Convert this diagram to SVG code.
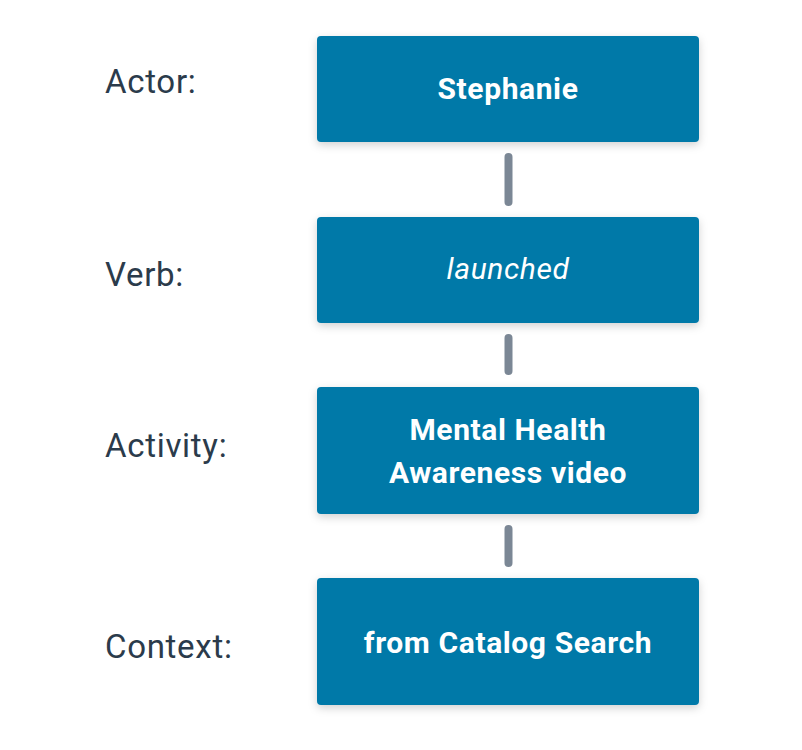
<svg xmlns="http://www.w3.org/2000/svg" width="802" height="750" viewBox="0 0 802 750">
  <defs>
    <filter id="shadow" x="-10%" y="-20%" width="120%" height="150%">
      <feDropShadow dx="0" dy="3" stdDeviation="4" flood-color="#000" flood-opacity="0.18"/>
    </filter>
    <style>
      .box { fill: #0679a8; filter: url(#shadow); }
      .label { font-family: Roboto, "Liberation Sans", sans-serif; font-size: 33px; letter-spacing: 0.7px; fill: #2b3b4b; }
      .txt { font-family: Roboto, "Liberation Sans", sans-serif; font-size: 30px; letter-spacing: 0.6px; font-weight: bold; fill: #ffffff; text-anchor: middle; }
      .it { font-weight: normal; font-style: italic; }
      .conn { stroke: #7b8795; stroke-width: 8; stroke-linecap: round; fill: none; }
    </style>
  </defs>
  <rect width="802" height="750" fill="#ffffff"/>
  <g id="labels">
    <text class="label" x="105" y="93">Actor:</text>
    <text class="label" x="105" y="286">Verb:</text>
    <text class="label" x="105" y="457">Activity:</text>
    <text class="label" x="105" y="658">Context:</text>
  </g>
  <g id="connectors">
    <line class="conn" x1="508.5" y1="157" x2="508.5" y2="202"/>
    <line class="conn" x1="508.5" y1="338" x2="508.5" y2="371"/>
    <line class="conn" x1="508.5" y1="529" x2="508.5" y2="563"/>
  </g>
  <g id="actor">
    <rect class="box" x="317" y="36" width="382" height="106" rx="4"/>
    <text class="txt" x="508" y="99">Stephanie</text>
  </g>
  <g id="verb">
    <rect class="box" x="317" y="217" width="382" height="106" rx="4"/>
    <text class="txt it" x="508" y="279">launched</text>
  </g>
  <g id="activity">
    <rect class="box" x="317" y="387" width="382" height="127" rx="4"/>
    <text class="txt" x="508" y="440">Mental Health</text>
    <text class="txt" x="508" y="483">Awareness video</text>
  </g>
  <g id="context">
    <rect class="box" x="317" y="578" width="382" height="127" rx="4"/>
    <text class="txt" x="508" y="653">from Catalog Search</text>
  </g>
</svg>
